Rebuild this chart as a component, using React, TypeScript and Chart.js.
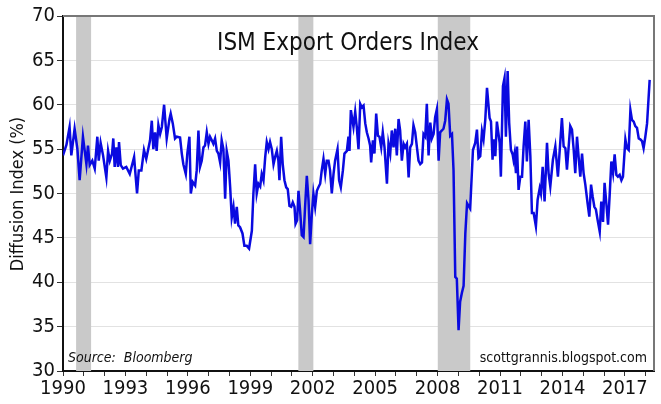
import React, { useEffect, useRef } from "react";
import { Chart, registerables } from "chart.js";

Chart.register(...registerables);

// Months elapsed since January 1990
const monthOffsets: number[] = [
  0, 2, 3.8, 4.8, 6.7, 8.3, 9.6, 11.5, 13.5, 14.4, 15.4, 16.9, 18.3, 19.8, 20.6, 21.7, 23.1, 25, 26, 27,
  28.3, 29, 29.8, 30.8, 31.7, 32.3, 33.3, 34.6, 36.5, 38.5, 41, 42.7, 43.7, 45.2, 46.7, 48,
  50.2, 51.2, 52.1, 53.1, 54, 55, 56, 57, 58.3, 59.8, 61.4, 62.1, 63.3, 64.6, 65.6, 67.5, 68.5, 69.4,
  70.8, 71.7, 72.9, 73.7, 74.8, 76.2, 77.1, 78.1, 79, 80, 81, 81.9, 82.9, 83.9, 84.8, 85.8, 86.7, 87.7,
  88.7, 89.6, 90.6, 91.5, 92.5, 93.5, 94.4, 95.4, 96.4, 97.3, 98.3, 99.2, 100.2, 101.1, 102.1, 103.5,
  104.6, 106, 107.3,
  108.9, 109.8, 110.8, 111.7, 112.7, 113.7, 114.6, 115.6, 116.6, 117.5, 118.5, 119.4, 120.4, 121.4,
  122.3, 123.3, 124.2, 124.8, 125.8, 126.7, 127.7, 128.7, 129.6, 130.6, 131.6, 132.5, 133.5, 134.1,
  135, 135.8, 136.7, 137.7, 138.7, 139.6, 140.6, 141.6, 142.5, 143.5, 144.4, 145.4, 146.4, 147.3,
  148.3, 149.2, 150.2, 151.2, 152.1, 153.1, 154, 155, 156, 156.9, 158.3, 159.2, 160.2, 161.4, 162.3,
  163.7, 164.6, 165.2, 166,
  167.5, 168.5, 169.4, 170.4, 171.4, 172.3, 173.3, 174.3, 175.2, 176.2, 177.1, 177.7, 178.7, 179.6,
  180.6, 181.6, 182.5, 183.5, 184.4, 185.4, 186.8, 187.7, 188.7, 189.6, 190.6, 191.6, 192.5, 193.5,
  194.4, 195.4, 196.4, 197.3, 198.3, 199.3, 200.2, 201.2, 202.1, 203.1, 204.1, 205, 206, 207, 207.9,
  208.9, 209.8, 210.8, 211.8, 212.7, 213.7, 214.6, 215.6, 216.6, 217.5, 218.5, 219.4, 220.4, 221.4,
  222.3, 223.3, 224.3, 225.2, 226.2, 227.1, 228.1,
  229, 230, 231, 232, 233, 234.8, 236.4, 237.7, 238.7, 239.6, 240.6, 241.6, 242.5, 243.5, 244.5, 246,
  246.8, 247.7, 248.3, 249.3, 250.2, 251.8, 252.5, 253.7, 254.6, 255.4, 256.4, 257.3, 258.3, 259.3,
  259.8, 260.4, 261.2, 261.8, 262.7, 263.7, 264.7, 265.6, 266.6, 267.5, 268.5, 269.5, 270.4, 271.4,
  272.7, 273.7, 274.9, 275.6, 276.6, 277.7, 279.1, 280, 281, 282.5, 283.9, 285.4,
  287.7, 288.7, 289.7, 290.6, 291.6, 292.5, 293.5, 294.5, 295.4, 296.4, 297.3, 298.3, 299.3, 300.2,
  301.2, 302.5, 303.5, 304.5, 305.4, 306.4, 307.3, 308.3, 309.5, 310.4, 311.4, 312.3, 313.3, 314.3,
  315.2, 316.2, 317.2, 318.1, 319.1, 320, 321, 322, 322.9, 324.3, 325.2, 326.2, 327.2, 328.1, 329.1,
  330, 331, 332, 332.9, 333.9, 334.8, 335.8, 336.8, 338.3,
];

// ISM export orders diffusion index (%)
const exportOrders: number[] = [
  54.3, 55.5, 57.5, 54.3, 57.3, 55.0, 51.5, 56.4, 53.3, 55.4, 53.2, 53.7, 52.8, 56.4, 53.7, 55.7, 54.3, 51.8, 54.8, 53.7,
  54.5, 56.2, 53.0, 55.2, 53.0, 55.8, 53.2, 52.8, 53.0, 52.2, 54.1, 50.0, 52.6, 52.6, 54.9, 53.9,
  56.0, 58.2, 55.0, 56.9, 54.8, 57.7, 56.7, 57.5, 60.0, 56.2, 58.4, 59.0, 57.9, 56.2, 56.4, 56.3, 54.5, 53.3,
  52.2, 54.5, 56.4, 50.0, 51.3, 50.9, 52.6, 57.1, 53.0, 53.7, 55.2, 55.4, 56.9, 55.6, 56.4, 56.0, 55.6, 56.2,
  54.8, 54.5, 53.5, 56.0, 55.0, 49.4, 54.8, 53.7, 50.7, 47.3, 48.5, 46.6, 48.5, 46.4, 46.2, 45.5,
  44.1, 44.1, 43.8,
  45.8, 50.0, 53.3, 50.0, 51.1, 50.8, 52.2, 51.5, 54.1, 55.8, 55.0, 55.8, 55.0, 53.3,
  54.1, 54.8, 53.7, 51.5, 56.4, 53.3, 51.5, 50.7, 50.5, 48.6, 48.5, 49.0, 48.5, 46.6,
  47.0, 50.3, 48.1, 45.3, 45.1, 48.5, 52.0, 49.2, 44.3, 47.7, 50.0, 48.5, 50.3, 50.7,
  51.1, 52.6, 53.9, 52.2, 53.7, 53.7, 52.6, 50.0, 52.2, 53.7, 55.0, 51.5, 50.7, 52.6, 54.5,
  54.8, 56.4, 54.8, 59.4,
  57.5, 59.2, 57.5, 55.0, 60.1, 59.7, 59.9, 57.9, 56.9, 56.2, 55.4, 53.5, 56.0, 54.5,
  59.0, 56.5, 56.4, 55.2, 56.9, 55.2, 51.1, 55.6, 54.5, 57.1, 55.2, 57.3, 54.3, 58.4,
  57.1, 53.7, 55.6, 55.2, 55.6, 51.8, 55.2, 55.6, 57.7, 56.9, 55.2, 53.7, 53.3, 53.5, 56.7,
  56.4, 60.1, 54.3, 58.0, 56.2, 56.7, 58.6, 59.5, 53.7, 56.9, 57.1, 57.3, 58.2, 60.6,
  60.1, 56.5, 56.7, 52.6, 40.6, 40.4, 34.6,
  37.8, 38.8, 39.6, 45.5, 48.9, 48.3, 54.9, 55.7, 57.2, 54.0, 54.2, 57.0, 56.1, 58.3, 61.9, 58.5,
  58.1, 53.8, 56.1, 54.2, 58.1, 55.7, 51.9, 62.1, 63.0, 56.4, 63.8, 57.9, 54.9, 54.4,
  53.8, 54.5, 52.3, 55.3, 50.4, 51.9, 51.9, 55.3, 58.1, 53.6, 58.3, 54.2, 47.8, 47.8,
  46.3, 49.3, 50.6, 50.0, 53.0, 49.1, 55.7, 52.3, 50.8, 53.8, 55.3, 51.9,
  58.5, 55.3, 55.1, 52.7, 55.3, 57.6, 57.2, 54.9, 52.3, 56.4, 54.2, 51.9, 54.5, 52.3,
  51.0, 48.9, 47.4, 51.0, 49.7, 48.5, 48.2, 47.0, 45.7, 49.1, 46.8, 51.2, 48.9, 46.5,
  49.7, 53.6, 52.3, 54.4, 52.1, 51.9, 52.1, 51.5, 51.9, 56.1, 55.1, 54.9, 59.4, 58.3, 58.1,
  57.6, 57.4, 56.2, 56.1, 55.9, 55.1, 56.4, 57.9, 62.8,
];

// Shaded recession periods (decimal years)
const recessionStarts: number[] = [1990.63, 2001.31, 2008.01];
const recessionEnds: number[] = [1991.35, 2002.03, 2009.57];

const titleText = "ISM Export Orders Index";
const yAxisTitle = "Diffusion Index (%)";
const sourceText = "Source:  Bloomberg";
const creditText = "scottgrannis.blogspot.com";

const FONT = "'Liberation Sans Narrow', 'DejaVu Sans Condensed', 'Liberation Sans', sans-serif";

export default function App() {
  const canvasRef = useRef<HTMLCanvasElement | null>(null);

  useEffect(() => {
    document.body.style.margin = "0";
    const canvas = canvasRef.current;
    if (!canvas) return;

    const points = monthOffsets.map((m, i) => ({ x: 1990 + m / 12, y: exportOrders[i] }));

    const bandsPlugin = {
      id: "recessionBands",
      beforeDatasetsDraw(chart: any) {
        const { ctx, chartArea, scales } = chart;
        ctx.save();
        ctx.fillStyle = "#c9c9c9";
        recessionStarts.forEach((s, i) => {
          const x1 = scales.x.getPixelForValue(s);
          const x2 = scales.x.getPixelForValue(recessionEnds[i]);
          ctx.fillRect(x1, chartArea.top, x2 - x1, chartArea.bottom - chartArea.top);
        });
        ctx.restore();
      },
    };

    const textPlugin = {
      id: "annotations",
      afterDraw(chart: any) {
        const { ctx, chartArea } = chart;
        ctx.save();
        // frame top/right
        ctx.strokeStyle = "#777";
        ctx.lineWidth = 2;
        ctx.beginPath();
        ctx.moveTo(chartArea.left, chartArea.top);
        ctx.lineTo(chartArea.right, chartArea.top);
        ctx.lineTo(chartArea.right, chartArea.bottom);
        ctx.stroke();

        ctx.fillStyle = "#111";
        ctx.textAlign = "center";
        ctx.textBaseline = "alphabetic";
        ctx.font = `24px ${FONT}`;
        ctx.fillText(titleText, 348, 50);

        ctx.font = `italic 14px ${FONT}`;
        ctx.textAlign = "left";
        ctx.fillText(sourceText, 68, 362);
        ctx.font = `14px ${FONT}`;
        ctx.textAlign = "right";
        ctx.fillText(creditText, 647, 362);

        ctx.translate(18, 194);
        ctx.rotate(-Math.PI / 2);
        ctx.textAlign = "center";
        ctx.textBaseline = "middle";
        ctx.font = `18px ${FONT}`;
        ctx.fillText(yAxisTitle, 0, 0);
        ctx.restore();
      },
    };

    const chart = new Chart(canvas, {
      type: "line",
      data: {
        datasets: [
          {
            data: points,
            borderColor: "#0a0ae0",
            borderWidth: 2.5,
            pointRadius: 0,
            tension: 0,
            fill: false,
          },
        ],
      },
      options: {
        animation: false,
        responsive: false,
        parsing: true,
        layout: { padding: { top: 16, right: 7, left: 0, bottom: 0 } },
        plugins: { legend: { display: false }, tooltip: { enabled: false } },
        scales: {
          x: {
            type: "linear",
            min: 1990,
            max: 2018.4,
            afterFit(scale: any) {
              scale.height = 33;
            },
            ticks: {
              stepSize: 1,
              autoSkip: false,
              includeBounds: false,
              maxRotation: 0,
              padding: 1,
              color: "#111",
              font: { family: FONT, size: 20 },
              callback: (v: any) => ((Number(v) - 1990) % 3 === 0 ? String(v) : ""),
            },
            grid: { drawOnChartArea: false, tickLength: 5, tickColor: "#333" },
            border: { color: "#111", width: 2 },
          },
          y: {
            min: 30,
            max: 70,
            afterFit(scale: any) {
              scale.width = 63;
            },
            ticks: {
              stepSize: 5,
              padding: 2,
              color: "#111",
              font: { family: FONT, size: 20 },
            },
            grid: { color: "#e2e2e2", lineWidth: 1, tickLength: 6, tickColor: "#333" },
            border: { color: "#111", width: 2 },
          },
        },
      },
      plugins: [bandsPlugin, textPlugin],
    });

    return () => chart.destroy();
  }, []);

  return (
    <div style={{ width: 661, height: 404, background: "#fff" }}>
      <canvas ref={canvasRef} width={661} height={404} />
    </div>
  );
}
